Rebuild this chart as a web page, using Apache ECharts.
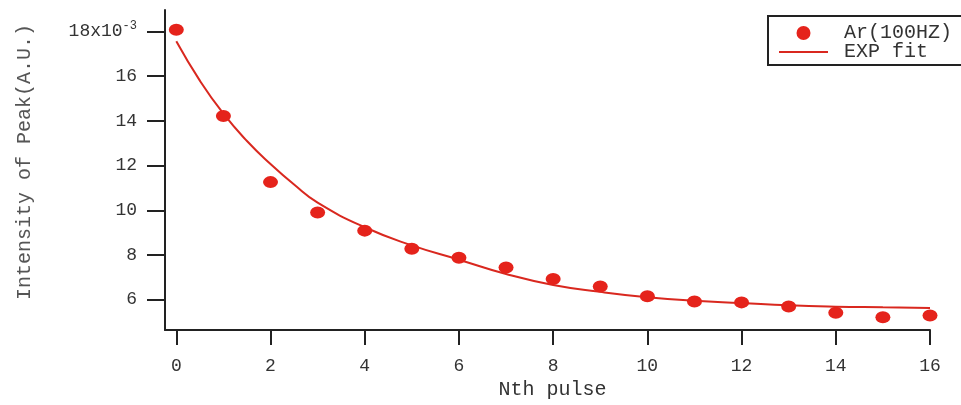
<!DOCTYPE html>
<html>
<head>
<meta charset="utf-8">
<script src="https://cdn.jsdelivr.net/npm/echarts@6/dist/echarts.min.js"></script>
<style>
html,body{margin:0;padding:0;background:#fff;}
#chart{width:961px;height:405px;}
</style>
</head>
<body>
<div id="chart"></div>
<script>
// Data
var pulseX = [0,1,2,3,4,5,6,7,8,9,10,11,12,13,14,15,16];
var peakVals = [18.08,14.22,11.26,9.90,9.09,8.28,7.88,7.44,6.93,6.59,6.15,5.92,5.88,5.70,5.42,5.22,5.29];
var fitX = [0,0.5,1,1.5,2,2.5,3,4,5,6,7,8,9,10,11,12,13,14,15,16];
var fitVals = [17.56,15.80,14.32,13.10,12.07,11.15,10.34,9.24,8.43,7.79,7.15,6.66,6.35,6.11,5.95,5.85,5.75,5.69,5.66,5.63];
var xTicks = [0,2,4,6,8,10,12,14,16];
var yTicks = [6,8,10,12,14,16,18];
var seriesNames = ['Ar(100HZ)','EXP fit'];
var xName = 'Nth pulse';
var yName = 'Intensity of Peak(A.U.)';

var FONT = '"Liberation Mono", "DejaVu Sans Mono", monospace';
var RED = '#e5231b';
var AXC = '#222';

var chart = echarts.init(document.getElementById('chart'), null, {renderer:'canvas'});
chart.setOption({
  animation: false,
  backgroundColor: '#fff',
  grid: {left:165, right:31, top:10, bottom:71, containLabel:false},
  legend: {
    left: 768, top: 16,
    orient: 'vertical',
    padding: [7, 30, 3, 10],
    borderColor: '#222', borderWidth: 2,
    itemWidth: 49, itemHeight: 14, itemGap: -1,
    textStyle: {fontFamily: FONT, fontSize: 20, color:'#333', padding:[0,0,0,11]},
    data: [
      {name: seriesNames[0], icon:'circle'},
      {name: seriesNames[1], itemStyle:{opacity:0}}
    ]
  },
  xAxis: {
    type: 'value', min: -0.24, max: 16,
    name: xName, nameLocation: 'middle', nameGap: 46,
    nameTextStyle: {fontFamily: FONT, fontSize: 20, color:'#333', padding:[0,0,0,10]},
    axisLine: {show:true, onZero:false, lineStyle:{color:AXC, width:2}},
    axisTick: {show:true, inside:false, length:15, customValues: xTicks, lineStyle:{color:AXC, width:2}},
    axisLabel: {customValues: xTicks, margin: 27, fontFamily: FONT, fontSize: 18, color:'#333'},
    splitLine: {show:false}
  },
  yAxis: {
    type: 'value', min: 4.64, max: 18.96,
    name: yName, nameLocation: 'middle', nameRotate: 90, nameGap: 130,
    nameTextStyle: {fontFamily: FONT, fontSize: 20, color:'#555', padding:[0,0,0,16]},
    axisLine: {show:true, onZero:false, lineStyle:{color:AXC, width:2}},
    axisTick: {show:true, inside:false, length:18, customValues: yTicks, lineStyle:{color:AXC, width:2}},
    axisLabel: {
      customValues: yTicks, margin: 28, fontFamily: FONT, fontSize: 18, color:'#333',
      formatter: function(v){ return v === 18 ? '18x10{sup|-3}' : String(v); },
      rich: {sup: {fontFamily: FONT, fontSize: 12, color:'#333', verticalAlign:'top', padding:[0,0,12,0]}}
    },
    splitLine: {show:false}
  },
  series: [
    {
      name: seriesNames[1], type: 'line', smooth: true, symbol: 'none',
      lineStyle: {color: '#d9281f', width: 2}, itemStyle:{color:'#d9281f'},
      data: fitX.map(function(x,i){ return [x, fitVals[i]]; }),
      z: 2
    },
    {
      name: seriesNames[0], type: 'scatter', symbol: 'circle', symbolSize: [15,12],
      itemStyle: {color: RED, opacity: 1},
      data: pulseX.map(function(x,i){ return [x, peakVals[i]]; }),
      z: 3
    }
  ]
});
</script>
</body>
</html>
